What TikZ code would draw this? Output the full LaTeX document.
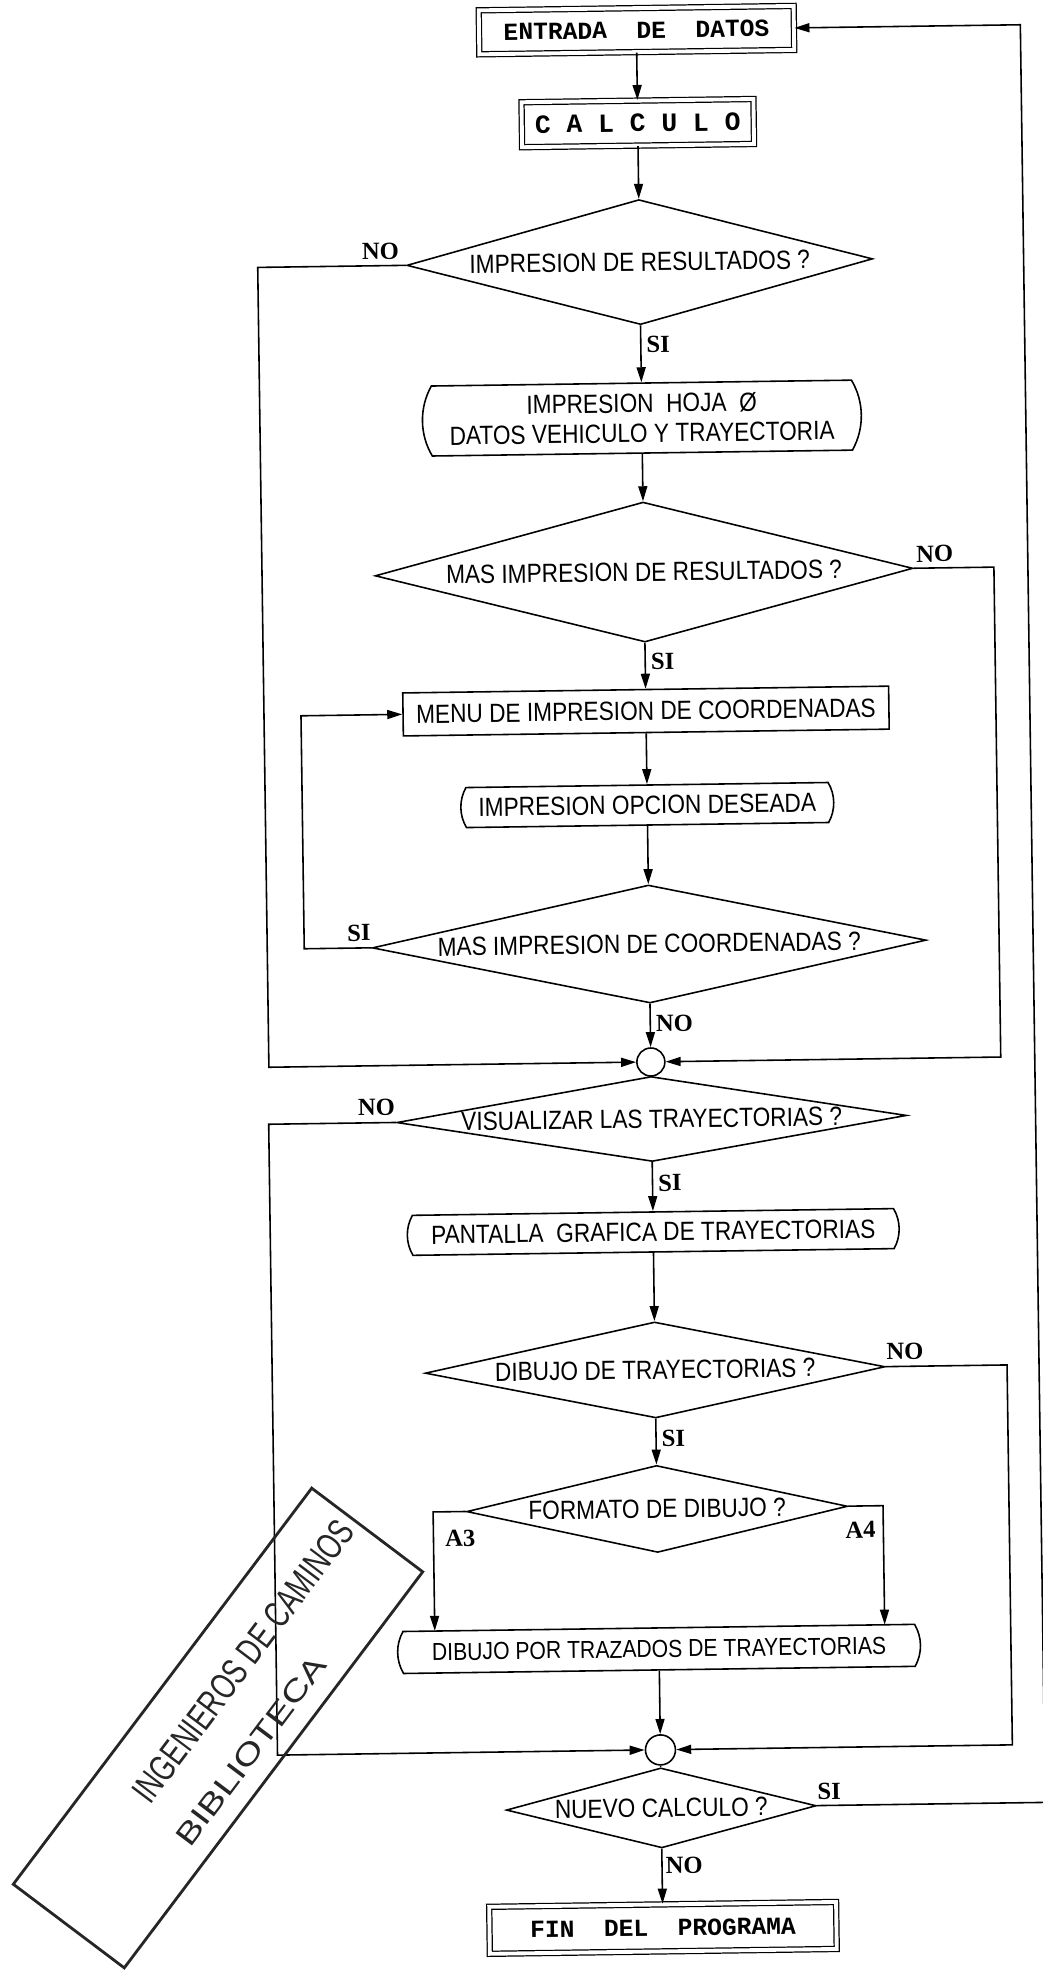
\documentclass[tikz,border=0pt]{standalone}
\usepackage{fontspec}
\setmainfont{Liberation Sans}[FakeStretch=0.86]
\newfontfamily\mecanofont{Liberation Mono}
\newfontfamily\etiqfont{Liberation Serif}
\newfontfamily\sellofont{Liberation Sans}[FakeStretch=0.72]
\newfontfamily\sellowidefont{Liberation Sans}[FakeStretch=1.3]
\usetikzlibrary{shapes.geometric, shapes.misc, arrows.meta}

\tikzset{
  flecha/.style={-{Triangle[length=0.3cm, width=0.18cm]}},
  terminal/.style={draw, double, double distance=2.2pt, line width=0.7pt, inner sep=0pt,
    font=\mecanofont\bfseries\fontsize{14}{16}\selectfont},
  proceso/.style={draw, rectangle, inner sep=0pt, font=\fontsize{15}{17}\selectfont},
  impresion/.style={draw, rounded rectangle, rounded rectangle arc length=60, inner sep=0pt,
    align=center, font=\fontsize{15}{17}\selectfont},
  decision/.style={draw, diamond, inner sep=0pt, font=\fontsize{15}{17}\selectfont},
  union/.style={draw, circle, minimum size=0.56cm, inner sep=0pt},
  etiqueta/.style={inner sep=0pt, font=\etiqfont\bfseries\fontsize{14}{16}\selectfont}
}

\begin{document}
\begin{tikzpicture}[x=0.02cm, y=-0.02cm, line width=0.9pt]
\path[fill=white, use as bounding box] (0,0) rectangle (1043,1976);

\begin{scope}[rotate around={0.8:(650,1000)}, transform shape]
% bloques
\node[terminal, minimum width=6.3cm, minimum height=0.88cm] (entrada) at (650,30) {ENTRADA~~DE~~DATOS};
\node[terminal, minimum width=4.64cm, minimum height=0.9cm,
  font=\mecanofont\bfseries\fontsize{15}{17}\selectfont] (calculo) at (650,123) {C~A~L~C~U~L~O};
\node[decision, minimum width=9.32cm, minimum height=2.5cm, aspect=4] (d1) at (650,262) {IMPRESION DE RESULTADOS ?};
\node[impresion, minimum width=8.78cm, minimum height=1.4cm] (hoja) at (650,418)
  {IMPRESION~~HOJA~~Ø\\DATOS VEHICULO Y TRAYECTORIA};
\node[decision, minimum width=10.76cm, minimum height=2.8cm, aspect=4.5] (d2) at (650,572) {MAS IMPRESION DE RESULTADOS ?};
\node[proceso, minimum width=9.72cm, minimum height=0.86cm] (menu) at (650,711) {MENU DE IMPRESION DE COORDENADAS};
\node[impresion, minimum width=7.46cm, minimum height=0.8cm] (opcion) at (650,805) {IMPRESION OPCION DESEADA};
\node[decision, minimum width=11.08cm, minimum height=2.36cm, aspect=5.5] (d3) at (650,944) {MAS IMPRESION DE COORDENADAS ?};
\node[union] (union1) at (650,1062) {};
\node[decision, minimum width=10.2cm, minimum height=1.7cm, aspect=6.2] (d4) at (650,1119) {VISUALIZAR LAS TRAYECTORIAS ?};
\node[impresion, minimum width=9.84cm, minimum height=0.8cm] (pantalla) at (650,1232) {PANTALLA~~GRAFICA DE TRAYECTORIAS};
\node[decision, minimum width=9.2cm, minimum height=1.92cm, aspect=5.5] (d5) at (650,1370) {DIBUJO DE TRAYECTORIAS ?};
\node[decision, minimum width=7.62cm, minimum height=1.74cm, aspect=5] (d6) at (650,1509) {FORMATO DE DIBUJO ?};
\node[impresion, minimum width=10.46cm, minimum height=0.84cm,
  font=\fontsize{14}{16}\selectfont] (trazado) at (650,1649) {DIBUJO POR TRAZADOS DE TRAYECTORIAS};
\node[union, minimum size=0.6cm] (union2) at (650,1750) {};
\node[decision, minimum width=6.2cm, minimum height=1.6cm, aspect=4.3] (d7) at (650,1808) {NUEVO CALCULO ?};
\node[terminal, minimum width=6.94cm, minimum height=0.94cm] (fin) at (650,1928) {FIN~~DEL~~PROGRAMA};

% esquinas de los retornos
\coordinate (c1a) at (268,262);   \coordinate (c1b) at (268,1062);
\coordinate (c2a) at (1000,572);  \coordinate (c2b) at (1000,1062);
\coordinate (c3a) at (305,944);   \coordinate (c3b) at (305,711);
\coordinate (c4a) at (267,1119);  \coordinate (c4b) at (267,1750);
\coordinate (c5a) at (1002,1370); \coordinate (c5b) at (1002,1750);
\coordinate (a3a) at (426,1509);  \coordinate (a3b) at (426,1628);
\coordinate (a4a) at (876,1509);  \coordinate (a4b) at (876,1628);
\coordinate (c7a) at (1034,1808); \coordinate (c7b) at (1034,30);

% flujo principal
\draw[flecha] (entrada) -- (calculo);
\draw[flecha] (calculo) -- (d1);
\draw[flecha] (d1) -- (hoja);
\draw[flecha] (hoja) -- (d2);
\draw[flecha] (d2) -- (menu);
\draw[flecha] (menu) -- (opcion);
\draw[flecha] (opcion) -- (d3);
\draw[flecha] (d3) -- (union1);
\draw (union1) -- (d4);
\draw[flecha] (d4) -- (pantalla);
\draw[flecha] (pantalla) -- (d5);
\draw[flecha] (d5) -- (d6);
\draw[flecha] (trazado) -- (union2);
\draw (union2) -- (d7);
\draw[flecha] (d7) -- (fin);

% ramas
\draw[flecha] (d1.west) -- (c1a) -- (c1b) -- (union1);
\draw[flecha] (d2.east) -- (c2a) -- (c2b) -- (union1);
\draw[flecha] (d3.west) -- (c3a) -- (c3b) -- (menu);
\draw[flecha] (d4.west) -- (c4a) -- (c4b) -- (union2);
\draw[flecha] (d5.east) -- (c5a) -- (c5b) -- (union2);
\draw[flecha] (d6.west) -- (a3a) -- (a3b);
\draw[flecha] (d6.east) -- (a4a) -- (a4b);
\draw[flecha] (d7.east) -- (c7a) -- (c7b) -- (entrada);

% etiquetas
\node[etiqueta, anchor=south east] (no1) at ([xshift=-0.12cm, yshift=0.1cm]d1.west) {NO};
\node[etiqueta, anchor=north west] (si1) at ([xshift=0.1cm, yshift=-0.2cm]d1.south) {SI};
\node[etiqueta, anchor=south west] (no2) at ([xshift=0.04cm, yshift=0.1cm]d2.east) {NO};
\node[etiqueta, anchor=north west] (si2) at ([xshift=0.1cm, yshift=-0.2cm]d2.south) {SI};
\node[etiqueta, anchor=south east] (si3) at ([yshift=0.12cm]d3.west) {SI};
\node[etiqueta, anchor=north west] (no3) at ([xshift=0.1cm, yshift=-0.22cm]d3.south) {NO};
\node[etiqueta, anchor=south east] (no4) at ([yshift=0.12cm]d4.west) {NO};
\node[etiqueta, anchor=north west] (si4) at ([xshift=0.1cm, yshift=-0.24cm]d4.south) {SI};
\node[etiqueta, anchor=south west] (no5) at ([yshift=0.12cm]d5.east) {NO};
\node[etiqueta, anchor=north west] (si5) at ([xshift=0.1cm, yshift=-0.22cm]d5.south) {SI};
\node[etiqueta, anchor=north west] (a3) at ([xshift=0.22cm, yshift=-0.36cm]a3a) {A3};
\node[etiqueta, anchor=north east] (a4) at ([xshift=-0.14cm, yshift=-0.3cm]a4a) {A4};
\node[etiqueta, anchor=south west] (si7) at ([yshift=0.1cm]d7.east) {SI};
\node[etiqueta, anchor=north west] (no7) at ([xshift=0.06cm, yshift=-0.16cm]d7.south) {NO};
\end{scope}

% sello de la biblioteca
\node[draw=black!85, line width=1.6pt, rotate=53, minimum width=9.92cm, minimum height=2.78cm,
  inner sep=0pt] (sello) at (218,1728) {};
\node[rotate=53, text=black!85, font=\sellofont\fontsize{21}{21}\selectfont] (sellotitulo) at (243,1661) {INGENIEROS DE CAMINOS};
\node[rotate=53, text=black!85, font=\sellowidefont\fontsize{17}{17}\selectfont] (sellonombre) at (251,1751) {BIBLIOTECA};
\end{tikzpicture}
\end{document}
